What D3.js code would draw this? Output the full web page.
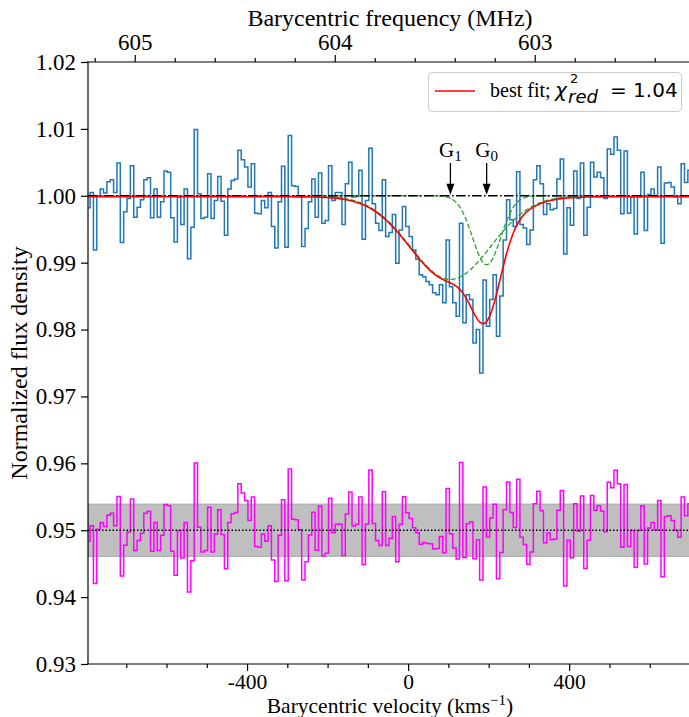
<!DOCTYPE html>
<html>
<head>
<meta charset="utf-8">
<script src="https://cdn.jsdelivr.net/npm/d3@7"></script>
<style>
  body { margin: 0; background: #fff; }
  svg { display: block; }
</style>
</head>
<body>
<svg id="chart" width="689" height="717"></svg>
<script>
// ---- spectral channels (barycentric velocity, km/s) ----
const channelStart = -794;     // centre of first channel
const channelWidth = 8.34;     // channel spacing

// normalised flux density per channel
const flux = [
  0.9982, 1.0005, 0.9919, 1.0000, 1.0010, 1.0004, 1.0021, 1.0024, 1.0005, 1.0049,
  0.9930, 0.9976, 0.9996, 1.0045, 0.9968, 0.9983, 0.9994, 1.0024, 1.0027, 0.9967,
  1.0010, 0.9968, 0.9991, 1.0037, 1.0035, 0.9967, 0.9931, 0.9998, 0.9957, 1.0010,
  0.9906, 0.9953, 1.0099, 1.0003, 0.9966, 0.9968, 1.0033, 0.9966, 0.9993, 1.0029,
  0.9992, 0.9941, 1.0010, 1.0023, 1.0025, 1.0068, 1.0054, 1.0043, 1.0013, 1.0048,
  0.9974, 0.9973, 0.9993, 0.9982, 1.0005, 0.9954, 0.9922, 0.9991, 1.0044, 0.9923,
  1.0090, 1.0015, 1.0014, 0.9999, 0.9924, 0.9951, 0.9991, 1.0025, 0.9968, 1.0034,
  0.9959, 0.9963, 1.0045, 0.9993, 1.0005, 1.0005, 0.9957, 1.0018, 1.0050, 0.9998,
  0.9999, 1.0038, 0.9935, 0.9993, 1.0071, 0.9988, 0.9959, 0.9948, 1.0024, 0.9939,
  0.9945, 0.9972, 0.9899, 0.9949, 0.9984, 0.9954, 0.9939, 0.9919, 0.9905, 0.9882,
  0.9879, 0.9872, 0.9867, 0.9855, 0.9852, 0.9867, 0.9840, 0.9934, 0.9864, 0.9840,
  0.9820, 0.9959, 0.9810, 0.9852, 0.9845, 0.9780, 0.9800, 0.9735, 0.9874, 0.9805,
  0.9845, 0.9882, 0.9790, 0.9850, 0.9934, 0.9994, 0.9964, 0.9954, 1.0036, 0.9957,
  0.9952, 0.9927, 0.9949, 1.0024, 1.0045, 1.0018, 0.9972, 0.9988, 0.9979, 0.9981,
  1.0025, 1.0055, 0.9913, 0.9982, 0.9956, 1.0037, 0.9996, 1.0049, 0.9941, 0.9983,
  1.0050, 1.0028, 1.0035, 1.0027, 0.9996, 1.0070, 1.0062, 1.0088, 1.0068, 0.9973,
  1.0067, 0.9974, 0.9998, 0.9943, 0.9998, 1.0035, 0.9948, 1.0002, 1.0010, 0.9999,
  1.0043, 0.9929, 1.0019, 1.0020, 1.0013, 0.9998, 0.9988, 1.0048, 1.0020, 1.0038
];

// ---- two-component Gaussian fit ----
const compNames   = ["G1", "G0"];
const compCentres = [105, 195];      // km/s
const compDepths  = [0.0125, 0.0103];
const compSigmas  = [100, 35];       // km/s
const continuum   = 0.99985;
const chiSqRed    = "1.04";

// residuals are shown offset below the spectrum, with the ±1σ noise band
const residualOffset = 0.95;
const noiseRms       = 0.0039;

// ---- axes ----
const velDomain  = [-795, 705];
const fluxDomain = [0.93, 1.02];
const fluxTicks  = [0.93, 0.94, 0.95, 0.96, 0.97, 0.98, 0.99, 1.00, 1.01, 1.02];
const velTicks   = [-400, 0, 400];
const velMinor   = [-700, -600, -500, -300, -200, -100, 100, 200, 300, 500, 600];
const freqRest   = 603.633;          // MHz at v = 0
const lightSpeed = 299792.458;
const freqTicks  = [605, 604, 603];
const freqMinor  = [605.2, 604.8, 604.6, 604.4, 604.2, 603.8, 603.6, 603.4, 603.2, 602.8, 602.6, 602.4];

const margin = { left: 88, top: 62, right: 692, bottom: 664 };
const serif = "'Liberation Serif', 'Times New Roman', serif";
const sans  = "'DejaVu Sans', sans-serif";

const svg = d3.select("#chart");

const x = d3.scaleLinear().domain(velDomain).range([margin.left, margin.right]);
const y = d3.scaleLinear().domain(fluxDomain).range([margin.bottom, margin.top]);
const toFreq = v => freqRest * (1 - v / lightSpeed);
const xf = d3.scaleLinear().domain(velDomain.map(toFreq)).range([margin.left, margin.right]);

// model evaluation
const component = (k, v) => compDepths[k] * Math.exp(-((v - compCentres[k]) ** 2) / (2 * compSigmas[k] ** 2));
const model = v => continuum - compCentres.reduce((s, _, k) => s + component(k, v), 0);

const velocity = flux.map((_, i) => channelStart + i * channelWidth);
const spectrum = flux.map((f, i) => ({ v: velocity[i], f }));
const residual = flux.map((f, i) => ({ v: velocity[i], f: f - model(velocity[i]) + residualOffset }));
const fine = d3.range(velDomain[0], velDomain[1] + 1, 2);

svg.append("defs").append("clipPath").attr("id", "plot-clip")
  .append("rect")
  .attr("x", margin.left).attr("y", margin.top)
  .attr("width", margin.right - margin.left).attr("height", margin.bottom - margin.top);

const plot = svg.append("g").attr("clip-path", "url(#plot-clip)");

// noise band around the residual zero level
plot.append("rect")
  .attr("x", margin.left).attr("width", margin.right - margin.left)
  .attr("y", y(residualOffset + noiseRms))
  .attr("height", y(residualOffset - noiseRms) - y(residualOffset + noiseRms))
  .attr("fill", "#bfbfbf").attr("stroke", "#a6a6a6").attr("stroke-width", 1);

const stepLine = d3.line().x(d => x(d.v)).y(d => y(d.f)).curve(d3.curveStep);

plot.append("path").datum(spectrum)
  .attr("d", stepLine)
  .attr("fill", "none").attr("stroke", "#1f77b4").attr("stroke-width", 1.5)
  .attr("stroke-linejoin", "miter");

plot.append("path").datum(residual)
  .attr("d", stepLine)
  .attr("fill", "none").attr("stroke", "#ff00ff").attr("stroke-width", 1.5)
  .attr("stroke-linejoin", "miter");

// individual Gaussian components
const smooth = d3.line().x(d => x(d[0])).y(d => y(d[1]));
compCentres.forEach((_, k) => {
  plot.append("path")
    .datum(fine.map(v => [v, 1 - component(k, v)]))
    .attr("d", smooth)
    .attr("fill", "none").attr("stroke", "#2ca02c").attr("stroke-width", 1.3)
    .attr("stroke-dasharray", "5,2.3");
});

// continuum level
plot.append("line")
  .attr("x1", margin.left).attr("x2", margin.right)
  .attr("y1", y(1)).attr("y2", y(1))
  .attr("stroke", "#000").attr("stroke-width", 1.6)
  .attr("stroke-dasharray", "9.6,2.4,1.6,2.4");

// best fit
plot.append("path")
  .datum(fine.map(v => [v, model(v)]))
  .attr("d", smooth)
  .attr("fill", "none").attr("stroke", "#ff0000").attr("stroke-width", 1.6);

// residual zero level
plot.append("line")
  .attr("x1", margin.left).attr("x2", margin.right)
  .attr("y1", y(residualOffset)).attr("y2", y(residualOffset))
  .attr("stroke", "#000").attr("stroke-width", 1.5)
  .attr("stroke-dasharray", "1.5,2");

// component markers
compCentres.forEach((c, k) => {
  const cx = x(c);
  const tip = y(1) - 1;
  svg.append("line")
    .attr("x1", cx).attr("x2", cx).attr("y1", 163).attr("y2", tip - 8)
    .attr("stroke", "#000").attr("stroke-width", 1.3);
  svg.append("path")
    .attr("d", `M${cx - 4},${tip - 11} L${cx + 4},${tip - 11} L${cx},${tip} Z`)
    .attr("fill", "#000");
  const label = svg.append("text")
    .attr("x", cx).attr("y", 157)
    .attr("text-anchor", "middle")
    .attr("font-family", serif).attr("font-size", 21);
  label.append("tspan").text(compNames[k][0]);
  label.append("tspan").attr("font-size", 15).attr("dy", 4).text(compNames[k].slice(1));
});

// ---- axes ----
const styleAxis = g => {
  g.selectAll("path.domain").remove();
  g.selectAll(".tick line").attr("stroke", "#000").attr("stroke-width", 1.2);
  g.selectAll(".tick text").attr("font-family", serif).attr("font-size", 23).attr("fill", "#000");
};

svg.append("g").attr("transform", `translate(0,${margin.bottom})`)
  .call(d3.axisBottom(x).tickValues(velTicks).tickFormat(d => String(d)).tickSize(7).tickPadding(3))
  .call(styleAxis)
  .call(g => g.selectAll(".tick text").attr("font-size", 21.5));
svg.append("g").attr("transform", `translate(0,${margin.bottom})`)
  .call(d3.axisBottom(x).tickValues(velMinor).tickFormat("").tickSize(4))
  .call(styleAxis);

svg.append("g").attr("transform", `translate(0,${margin.top})`)
  .call(d3.axisTop(xf).tickValues(freqTicks).tickFormat(d3.format("d")).tickSize(7).tickPadding(5))
  .call(styleAxis);
svg.append("g").attr("transform", `translate(0,${margin.top})`)
  .call(d3.axisTop(xf).tickValues(freqMinor).tickFormat("").tickSize(4))
  .call(styleAxis);

svg.append("g").attr("transform", `translate(${margin.left},0)`)
  .call(d3.axisLeft(y).tickValues(fluxTicks).tickFormat(d3.format(".2f")).tickSize(7).tickPadding(5))
  .call(styleAxis);

// spines
[[margin.left, margin.top, margin.left, margin.bottom],
 [margin.left, margin.bottom, margin.right, margin.bottom],
 [margin.left, margin.top, margin.right, margin.top],
 [margin.right, margin.top, margin.right, margin.bottom]].forEach(([x1, y1, x2, y2]) => {
  svg.append("line").attr("x1", x1).attr("y1", y1).attr("x2", x2).attr("y2", y2)
    .attr("stroke", "#000").attr("stroke-width", 1.2).attr("stroke-linecap", "square");
});

// axis titles
const midX = (margin.left + margin.right) / 2;
svg.append("text")
  .attr("x", midX).attr("y", 26).attr("text-anchor", "middle")
  .attr("font-family", serif).attr("font-size", 24)
  .text("Barycentric frequency (MHz)");

const xTitle = svg.append("text")
  .attr("x", midX).attr("y", 712.5).attr("text-anchor", "middle")
  .attr("font-family", serif).attr("font-size", 21.5);
xTitle.append("tspan").text("Barycentric velocity (kms");
xTitle.append("tspan").attr("font-size", 15).attr("dy", -8).text("\u22121");
xTitle.append("tspan").attr("dy", 8).text(")");

svg.append("text")
  .attr("transform", `translate(27,${(margin.top + margin.bottom) / 2}) rotate(-90)`)
  .attr("text-anchor", "middle")
  .attr("font-family", serif).attr("font-size", 24)
  .text("Normalized flux density");

// ---- legend ----
const legend = svg.append("g");
legend.append("rect")
  .attr("x", 428.5).attr("y", 72.5).attr("width", 253).attr("height", 39)
  .attr("rx", 4).attr("ry", 4)
  .attr("fill", "#fff").attr("fill-opacity", 0.8)
  .attr("stroke", "#cccccc").attr("stroke-width", 1);
legend.append("line")
  .attr("x1", 435).attr("x2", 475).attr("y1", 91).attr("y2", 91)
  .attr("stroke", "#ff0000").attr("stroke-width", 1.6);
legend.append("text")
  .attr("x", 490).attr("y", 97)
  .attr("font-family", serif).attr("font-size", 20)
  .text("best fit;");
legend.append("text")
  .attr("x", 555).attr("y", 97)
  .attr("font-family", sans).attr("font-style", "italic").attr("font-size", 20)
  .text("\u03c7");
legend.append("text")
  .attr("x", 570).attr("y", 83)
  .attr("font-family", sans).attr("font-size", 13)
  .text("2");
legend.append("text")
  .attr("x", 568).attr("y", 103)
  .attr("font-family", sans).attr("font-style", "italic").attr("font-size", 18)
  .text("red");
legend.append("text")
  .attr("x", 610).attr("y", 97)
  .attr("font-family", sans).attr("font-size", 20)
  .text("= " + chiSqRed);
</script>
</body>
</html>
